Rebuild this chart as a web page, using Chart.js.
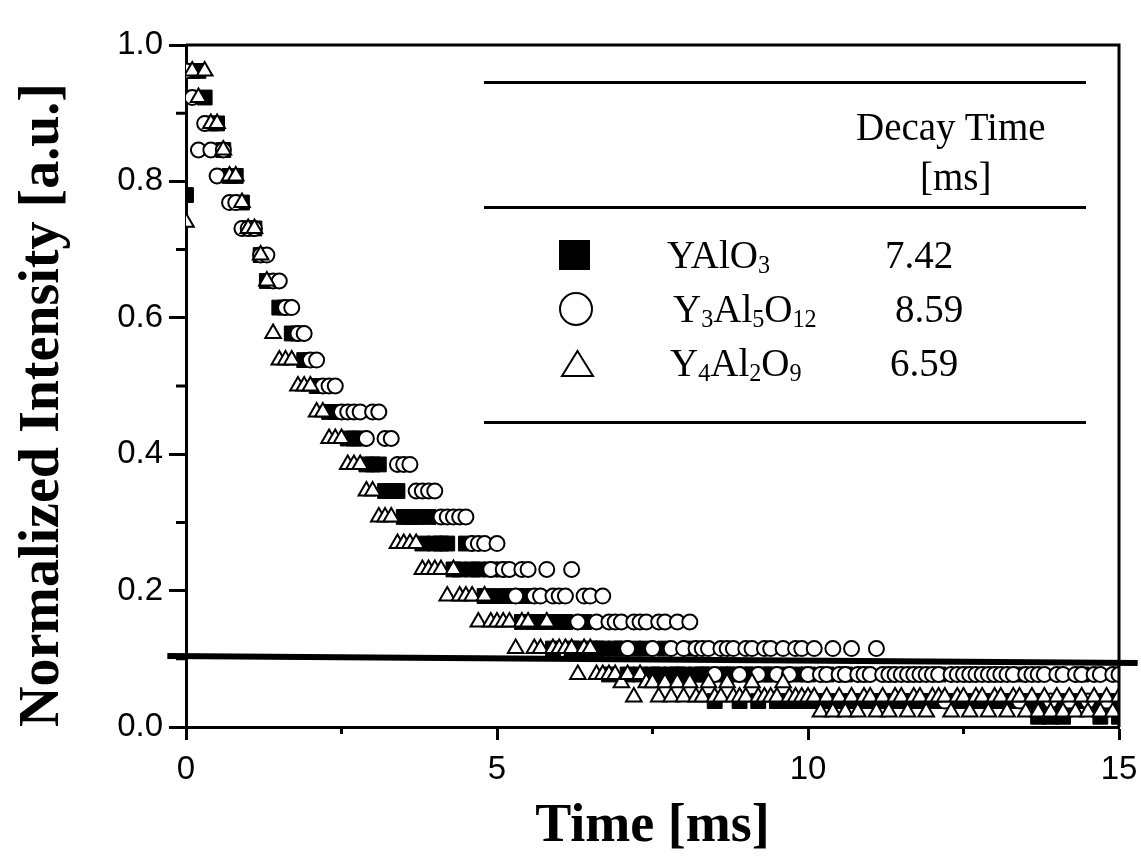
<!DOCTYPE html>
<html>
<head>
<meta charset="utf-8">
<script src="https://cdn.jsdelivr.net/npm/chart.js@4"></script>
<style>
  body { margin: 0; background: #fff; }
  #wrap { position: relative; width: 1141px; height: 859px; }
  #chart { position: absolute; left: 0; top: 0; }
  .rule { position: absolute; left: 484px; width: 602px; height: 3px; background: #000; }
  .lg { position: absolute; font-family: "Liberation Serif", serif; font-size: 39px; line-height: 39px; color: #000; white-space: nowrap; }
  .lg sub { font-size: 62%; vertical-align: -5px; line-height: 0; }
  .sym { position: absolute; }
</style>
</head>
<body>
<div id="wrap">
  <canvas id="chart" width="1141" height="859"></canvas>

  <div class="rule" style="top:81px"></div>
  <div class="rule" style="top:206px"></div>
  <div class="rule" style="top:421px"></div>

  <div class="lg" style="left:856px; top:107px">Decay Time</div>
  <div class="lg" style="left:920px; top:157px">[ms]</div>

  <svg class="sym" style="left:559px; top:240px" width="31" height="30"><rect x="0" y="0" width="31" height="30" fill="#000"/></svg>
  <svg class="sym" style="left:558px; top:291px" width="36" height="36"><circle cx="18" cy="18" r="16" fill="#fff" stroke="#000" stroke-width="2"/></svg>
  <svg class="sym" style="left:560px; top:349px" width="35" height="29"><polygon points="17.5,2 33,27 2,27" fill="#fff" stroke="#000" stroke-width="2"/></svg>

  <div class="lg" style="left:667px; top:235px">YAlO<sub>3</sub></div>
  <div class="lg" style="left:673px; top:289px">Y<sub>3</sub>Al<sub>5</sub>O<sub>12</sub></div>
  <div class="lg" style="left:670px; top:343px">Y<sub>4</sub>Al<sub>2</sub>O<sub>9</sub></div>

  <div class="lg" style="left:885px; top:235px">7.42</div>
  <div class="lg" style="left:895px; top:289px">8.59</div>
  <div class="lg" style="left:890px; top:343px">6.59</div>
</div>

<script>
// time axis [ms]
const time = [
  0, 0.1, 0.2, 0.3, 0.4, 0.5, 0.6, 0.7, 0.8, 0.9,
  1, 1.1, 1.2, 1.3, 1.4, 1.5, 1.6, 1.7, 1.8, 1.9,
  2, 2.1, 2.2, 2.3, 2.4, 2.5, 2.6, 2.7, 2.8, 2.9,
  3, 3.1, 3.2, 3.3, 3.4, 3.5, 3.6, 3.7, 3.8, 3.9,
  4, 4.1, 4.2, 4.3, 4.4, 4.5, 4.6, 4.7, 4.8, 4.9,
  5, 5.1, 5.2, 5.3, 5.4, 5.5, 5.6, 5.7, 5.8, 5.9,
  6, 6.1, 6.2, 6.3, 6.4, 6.5, 6.6, 6.7, 6.8, 6.9,
  7, 7.1, 7.2, 7.3, 7.4, 7.5, 7.6, 7.7, 7.8, 7.9,
  8, 8.1, 8.2, 8.3, 8.4, 8.5, 8.6, 8.7, 8.8, 8.9,
  9, 9.1, 9.2, 9.3, 9.4, 9.5, 9.6, 9.7, 9.8, 9.9,
  10, 10.1, 10.2, 10.3, 10.4, 10.5, 10.6, 10.7, 10.8, 10.9,
  11, 11.1, 11.2, 11.3, 11.4, 11.5, 11.6, 11.7, 11.8, 11.9,
  12, 12.1, 12.2, 12.3, 12.4, 12.5, 12.6, 12.7, 12.8, 12.9,
  13, 13.1, 13.2, 13.3, 13.4, 13.5, 13.6, 13.7, 13.8, 13.9,
  14, 14.1, 14.2, 14.3, 14.4, 14.5, 14.6, 14.7, 14.8, 14.9,
  15
];

// YAlO3 (filled squares)
const yalo3 = [
  0.78, 0.962, 0.962, 0.923, 0.885, 0.885, 0.846, 0.808, 0.808, 0.769,
  0.731, 0.731, 0.692, 0.654, 0.654, 0.615, 0.615, 0.577, 0.577, 0.538,
  0.538, 0.5, 0.5, 0.462, 0.462, 0.462, 0.423, 0.423, 0.423, 0.385,
  0.385, 0.385, 0.346, 0.346, 0.346, 0.308, 0.308, 0.308, 0.269, 0.308,
  0.269, 0.269, 0.269, 0.231, 0.231, 0.269, 0.231, 0.231, 0.192, 0.231,
  0.192, 0.231, 0.192, 0.192, 0.154, 0.192, 0.154, 0.154, 0.154, 0.115,
  0.154, 0.154, 0.115, 0.115, 0.154, 0.115, 0.115, 0.115, 0.077, 0.115,
  0.115, 0.077, 0.115, 0.077, 0.115, 0.077, 0.077, 0.115, 0.077, 0.077,
  0.077, 0.115, 0.077, 0.077, 0.077, 0.038, 0.077, 0.077, 0.077, 0.038,
  0.077, 0.077, 0.038, 0.077, 0.077, 0.038, 0.077, 0.038, 0.077, 0.038,
  0.077, 0.038, 0.038, 0.077, 0.038, 0.038, 0.077, 0.038, 0.038, 0.077,
  0.038, 0.038, 0.038, 0.077, 0.038, 0.038, 0.038, 0.077, 0.038, 0.038,
  0.038, 0.077, 0.038, 0.038, 0.038, 0.038, 0.077, 0.038, 0.038, 0.038,
  0.077, 0.038, 0.038, 0.038, 0.077, 0.038, 0.038, 0.015, 0.038, 0.015,
  0.038, 0.015, 0.038, 0.038, 0.077, 0.038, 0.038, 0.015, 0.038, 0.038,
  0.015
];

// Y3Al5O12 (open circles)
const yag = [
  0.962, 0.923, 0.846, 0.885, 0.846, 0.808, 0.846, 0.769, 0.769, 0.731,
  0.731, 0.731, 0.692, 0.692, 0.654, 0.654, 0.615, 0.615, 0.577, 0.577,
  0.538, 0.538, 0.5, 0.5, 0.5, 0.462, 0.462, 0.462, 0.462, 0.423,
  0.462, 0.462, 0.423, 0.423, 0.385, 0.385, 0.385, 0.346, 0.346, 0.346,
  0.346, 0.308, 0.308, 0.308, 0.308, 0.308, 0.269, 0.269, 0.269, 0.231,
  0.269, 0.231, 0.231, 0.192, 0.231, 0.231, 0.192, 0.192, 0.231, 0.192,
  0.192, 0.192, 0.231, 0.154, 0.192, 0.192, 0.154, 0.192, 0.154, 0.154,
  0.154, 0.115, 0.154, 0.154, 0.154, 0.115, 0.154, 0.154, 0.115, 0.154,
  0.115, 0.154, 0.115, 0.115, 0.115, 0.077, 0.115, 0.115, 0.115, 0.077,
  0.115, 0.115, 0.077, 0.115, 0.115, 0.077, 0.115, 0.077, 0.115, 0.115,
  0.077, 0.115, 0.077, 0.077, 0.115, 0.077, 0.077, 0.115, 0.077, 0.077,
  0.077, 0.115, 0.077, 0.077, 0.077, 0.077, 0.077, 0.077, 0.077, 0.077,
  0.077, 0.077, 0.038, 0.077, 0.077, 0.077, 0.077, 0.077, 0.077, 0.077,
  0.077, 0.077, 0.077, 0.077, 0.038, 0.077, 0.077, 0.077, 0.077, 0.038,
  0.077, 0.077, 0.038, 0.077, 0.077, 0.038, 0.077, 0.077, 0.038, 0.077,
  0.077
];

// Y4Al2O9 (open triangles)
const yam = [
  0.74, 0.962, 0.923, 0.962, 0.885, 0.885, 0.846, 0.808, 0.808, 0.769,
  0.731, 0.731, 0.692, 0.654, 0.577, 0.538, 0.538, 0.538, 0.5, 0.5,
  0.5, 0.462, 0.462, 0.423, 0.423, 0.423, 0.385, 0.385, 0.385, 0.346,
  0.346, 0.308, 0.308, 0.308, 0.269, 0.269, 0.269, 0.269, 0.231, 0.231,
  0.231, 0.231, 0.192, 0.231, 0.192, 0.192, 0.192, 0.154, 0.192, 0.154,
  0.154, 0.154, 0.154, 0.115, 0.154, 0.154, 0.115, 0.115, 0.154, 0.115,
  0.115, 0.115, 0.115, 0.077, 0.115, 0.115, 0.077, 0.077, 0.077, 0.077,
  0.065, 0.077, 0.044, 0.077, 0.065, 0.065, 0.044, 0.065, 0.044, 0.065,
  0.044, 0.065, 0.044, 0.044, 0.065, 0.044, 0.044, 0.065, 0.044, 0.044,
  0.044, 0.065, 0.044, 0.044, 0.044, 0.044, 0.065, 0.044, 0.044, 0.044,
  0.044, 0.044, 0.022, 0.044, 0.022, 0.044, 0.022, 0.044, 0.022, 0.044,
  0.044, 0.022, 0.044, 0.022, 0.044, 0.044, 0.022, 0.044, 0.044, 0.022,
  0.044, 0.044, 0.044, 0.022, 0.044, 0.044, 0.022, 0.044, 0.044, 0.022,
  0.044, 0.044, 0.022, 0.044, 0.044, 0.022, 0.044, 0.022, 0.044, 0.022,
  0.044, 0.022, 0.044, 0.022, 0.044, 0.022, 0.044, 0.022, 0.044, 0.022,
  0.044
];

// the thick horizontal line near 0.1
const lineX = [-0.3, 15.3];
const lineY = [0.104, 0.094];

const xTicks = [0, 5, 10, 15];
const xMinor = [2.5, 7.5, 12.5];
const yMinor = [0.1, 0.3, 0.5, 0.7, 0.9];

function pts(xs, ys) {
  return xs.map((x, i) => ({ x: x, y: ys[i] }));
}

// box on top/right + minor ticks
const frame = {
  id: 'frame',
  afterDraw(chart) {
    const ctx = chart.ctx;
    const a = chart.chartArea;
    const xs = chart.scales.x, ys = chart.scales.y;
    ctx.save();
    ctx.strokeStyle = '#000';
    ctx.lineWidth = 3;
    ctx.beginPath();
    ctx.moveTo(a.left, a.top);
    ctx.lineTo(a.right, a.top);
    ctx.lineTo(a.right, a.bottom);
    ctx.stroke();
    ctx.beginPath();
    xMinor.forEach(v => {
      const px = xs.getPixelForValue(v);
      ctx.moveTo(px, a.bottom);
      ctx.lineTo(px, a.bottom + 7);
    });
    yMinor.forEach(v => {
      const py = ys.getPixelForValue(v);
      ctx.moveTo(a.left, py);
      ctx.lineTo(a.left - 10, py);
    });
    ctx.stroke();
    ctx.restore();
  }
};

const tickFont = { family: 'Liberation Sans', size: 33 };

new Chart(document.getElementById('chart'), {
  type: 'scatter',
  data: {
    datasets: [
      {
        label: 'line',
        data: pts(lineX, lineY),
        showLine: true,
        borderColor: '#000',
        borderWidth: 6,
        pointRadius: 0,
        clip: false,
        order: 0
      },
      {
        label: 'Y4Al2O9',
        data: pts(time, yam),
        pointStyle: 'triangle',
        pointRadius: 9,
        backgroundColor: '#fff',
        borderColor: '#000',
        borderWidth: 2,
        order: 1
      },
      {
        label: 'Y3Al5O12',
        data: pts(time, yag),
        pointStyle: 'circle',
        pointRadius: 7.5,
        backgroundColor: '#fff',
        borderColor: '#000',
        borderWidth: 2,
        order: 2
      },
      {
        label: 'YAlO3',
        data: pts(time, yalo3),
        pointStyle: 'rect',
        pointRadius: 10.5,
        backgroundColor: '#000',
        borderColor: '#000',
        borderWidth: 1,
        order: 3
      }
    ]
  },
  options: {
    responsive: false,
    animation: false,
    events: [],
    layout: { padding: { left: 0, top: 45, right: 22, bottom: 0 } },
    plugins: { legend: { display: false }, tooltip: { enabled: false } },
    scales: {
      x: {
        type: 'linear',
        min: 0,
        max: 15,
        afterBuildTicks: s => { s.ticks = xTicks.map(v => ({ value: v })); },
        afterFit: s => { s.height = 132; s.paddingLeft = 0; s.paddingRight = 0; },
        ticks: { font: tickFont, color: '#000', padding: 10 },
        grid: { drawOnChartArea: false, tickLength: 13, tickWidth: 3, tickColor: '#000' },
        border: { display: true, color: '#000', width: 3 },
        title: { display: true, text: 'Time [ms]', font: { family: 'Liberation Serif', size: 54, weight: 'bold' }, color: '#000', padding: { top: 0, bottom: 0 } }
      },
      y: {
        type: 'linear',
        min: 0,
        max: 1,
        ticks: { stepSize: 0.2, font: tickFont, color: '#000', padding: 6, callback: v => v.toFixed(1) },
        afterFit: s => { s.width = 186; },
        grid: { drawOnChartArea: false, tickLength: 17, tickWidth: 3, tickColor: '#000' },
        border: { display: true, color: '#000', width: 3 },
        title: { display: true, text: 'Normalized Intensity [a.u.]', font: { family: 'Liberation Serif', size: 56, weight: 'bold' }, color: '#000', align: 'start', padding: { top: 10, bottom: 0 } }
      }
    }
  },
  plugins: [frame]
});
</script>
</body>
</html>
